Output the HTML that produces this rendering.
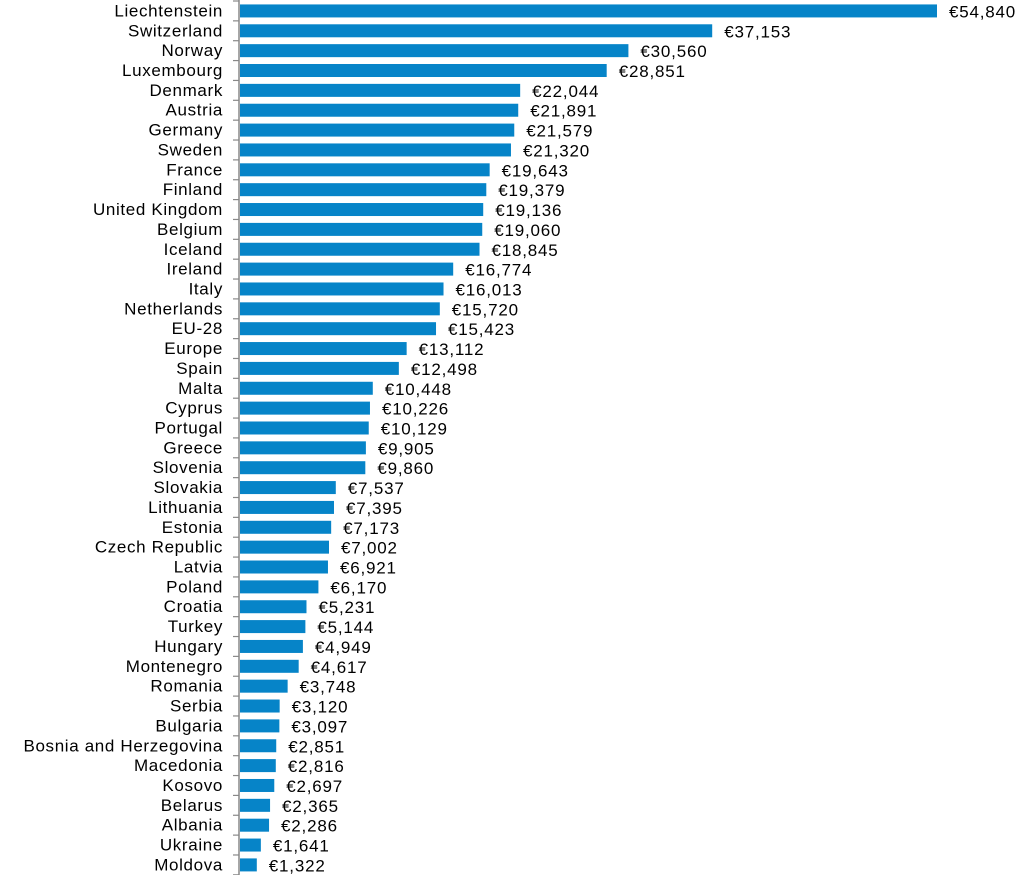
<!DOCTYPE html>
<html><head><meta charset="utf-8"><style>
body{margin:0;background:#fff;width:1036px;height:875px;overflow:hidden}
svg{display:block;font-family:"Liberation Sans",Arial,sans-serif}
.cat{font-size:17px;letter-spacing:0.65px}
.val{font-size:17px;letter-spacing:0.8px}
</style></head><body>
<svg id="chart" width="1036" height="875" viewBox="0 0 1036 875"></svg>
<script>
const countries=["Liechtenstein","Switzerland","Norway","Luxembourg","Denmark","Austria","Germany","Sweden","France","Finland","United Kingdom","Belgium","Iceland","Ireland","Italy","Netherlands","EU-28","Europe","Spain","Malta","Cyprus","Portugal","Greece","Slovenia","Slovakia","Lithuania","Estonia","Czech Republic","Latvia","Poland","Croatia","Turkey","Hungary","Montenegro","Romania","Serbia","Bulgaria","Bosnia and Herzegovina","Macedonia","Kosovo","Belarus","Albania","Ukraine","Moldova"];
const values=[54840,37153,30560,28851,22044,21891,21579,21320,19643,19379,19136,19060,18845,16774,16013,15720,15423,13112,12498,10448,10226,10129,9905,9860,7537,7395,7173,7002,6921,6170,5231,5144,4949,4617,3748,3120,3097,2851,2816,2697,2365,2286,1641,1322];
const NS="http://www.w3.org/2000/svg";
const svg=document.getElementById('chart');
const x0=240,xScale=v=>x0+v*(697/54840);
const top0=1,pitch=19.86;
const yB=i=>top0+i*pitch;
function mk(t,a){const e=document.createElementNS(NS,t);for(const k in a)e.setAttribute(k,a[k]);svg.appendChild(e);return e;}
countries.forEach((c,i)=>{
 const cy=yB(i)+pitch/2;
 const r=mk('rect',{x:x0,y:cy-6.5,width:xScale(values[i])-x0,height:13,fill:'#0684c8'});
 
 
 const l=mk('text',{x:223,y:cy+5.5,'text-anchor':'end',fill:'#000',class:'cat'});l.textContent=c;
 
 
 const v=mk('text',{x:xScale(values[i])+12,y:cy+6.5,fill:'#000',class:'val'});v.textContent='€'+values[i].toLocaleString('en-US');
 
 
});
for(let i=0;i<=countries.length;i++){
 const t=mk('line',{x1:233,x2:239,y1:yB(i),y2:yB(i),stroke:'#888','stroke-width':1.2});
 
 
}
const ax=mk('line',{x1:239,x2:239,y1:0,y2:875,stroke:'#888','stroke-width':1.5});


</script>
</body></html>
